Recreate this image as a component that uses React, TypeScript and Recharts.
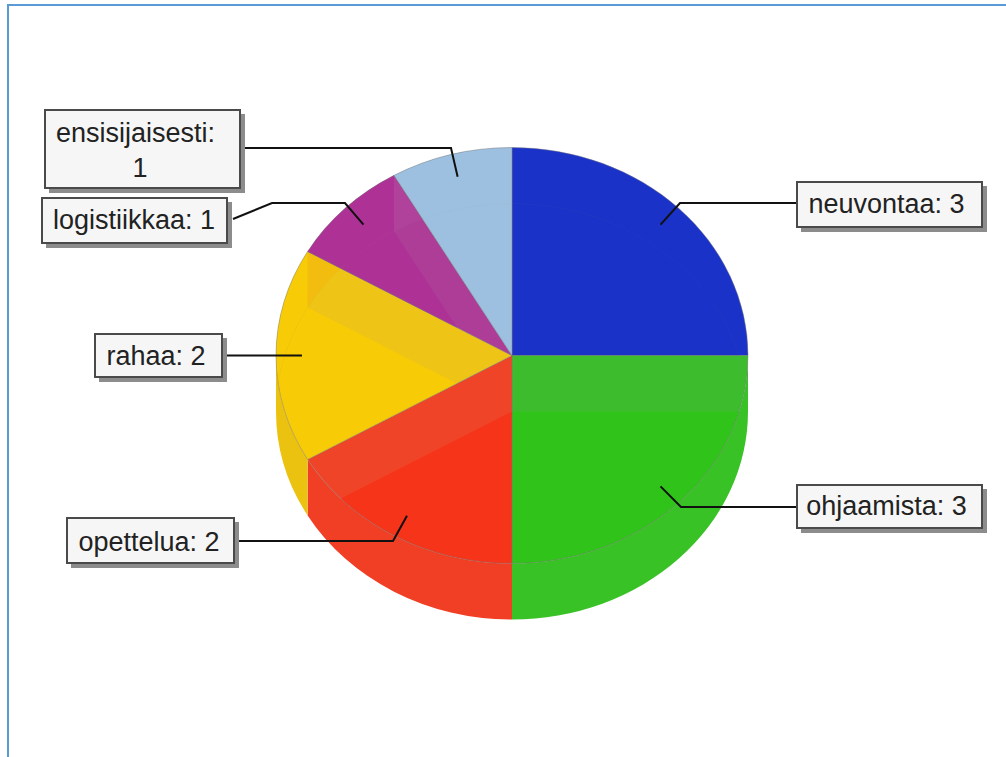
import { PieChart, Pie, Cell } from 'recharts'

const names = ['neuvontaa', 'ohjaamista', 'opettelua', 'rahaa', 'logistiikkaa', 'ensisijaisesti']
const values = [3, 3, 2, 2, 1, 1]
const faceColors = ['#1a32c8', '#30c31a', '#f5341a', '#f7cb05', '#ae3296', '#9dc0e0']
const wallColors = ['#1a32c8', '#38c225', '#f03f25', '#ecc211', '#ae3296', '#9dc0e0']
// top face colour where another slice's floor shows through it
const bandColors = ['#1a32c8', '#3dbd2e', '#f04428', '#eec516', '#ad3d97', '#9dc0e0']
// same, where the next slice's back wall shows through
const backTints = ['', '', '', '#f3bd10', '#b0429b', '']

const chartData = names.map((name, i) => ({ name, value: values[i] }))
const total = values.reduce((a, b) => a + b, 0)

const RX = 236
const SQUASH = 208 / 236
const DEPTH = 56
const RAD = Math.PI / 180

// box: left, top, width, height; text: x centre and baseline per line; leader: points from slice to box
const CALLOUTS: Record<string, { box: number[]; text: number[][]; leader: number[][] }> = {
  neuvontaa: { box: [797, 182, 185, 45], text: [[886.5, 213]], leader: [[680, 203], [797, 203]] },
  ohjaamista: { box: [797, 485, 185, 43], text: [[886.5, 515]], leader: [[681, 507], [797, 507]] },
  opettelua: { box: [67, 518, 167, 45], text: [[149, 551]], leader: [[393, 541], [234, 541]] },
  rahaa: { box: [95, 334, 127, 43], text: [[156, 365]], leader: [[222, 355.5]] },
  logistiikkaa: { box: [42, 198, 185, 45], text: [[134, 229]], leader: [[345, 203], [272, 203], [233, 219]] },
  ensisijaisesti: { box: [45, 110, 195, 78], text: [[135.5, 142], [140, 177]], leader: [[451, 148], [243, 148]] },
}

function ellipsePoint(cx: number, cy: number, angle: number, f = 1) {
  return [cx + RX * f * Math.cos(angle * RAD), cy - RX * SQUASH * f * Math.sin(angle * RAD)]
}

function arcTo(cx: number, cy: number, to: number, sweep: number) {
  const [x, y] = ellipsePoint(cx, cy, to)
  return `A${RX} ${RX * SQUASH} 0 0 ${sweep} ${x} ${y}`
}

function wedgePath(cx: number, cy: number, from: number, to: number) {
  const [x, y] = ellipsePoint(cx, cy, from)
  return `M${cx} ${cy}L${x} ${y}${arcTo(cx, cy, to, 1)}Z`
}

// band of the cylinder's side between two angles, from the top rim to the bottom rim
function wallPath(cx: number, cy: number, from: number, to: number) {
  const [ax, ay] = ellipsePoint(cx, cy, from)
  const [bx, by] = ellipsePoint(cx, cy + DEPTH, to)
  return `M${ax} ${ay}${arcTo(cx, cy, to, 1)}L${bx} ${by}${arcTo(cx, cy + DEPTH, from, 0)}Z`
}

// Slices run clockwise, so recharts hands over startAngle > endAngle (90 down to -270)
function backWall(cx: number, cy: number, start: number, end: number) {
  const from = Math.min(start, -180)
  const to = Math.max(end, -360)
  return from > to ? wallPath(cx, cy, from, to) : null
}

function SliceShape(props: any) {
  const { cx, cy, startAngle, endAngle, fill, index } = props
  const face = wedgePath(cx, cy, startAngle, endAngle)
  const floor = wedgePath(cx, cy + DEPTH, startAngle, endAngle)
  const clipId = `slice-clip-${index}`

  const lowerStart = Math.min(startAngle, 0)
  const lowerEnd = Math.max(endAngle, -180)
  const front = lowerStart > lowerEnd ? wallPath(cx, cy, lowerStart, lowerEnd) : null

  const back = backWall(cx, cy, startAngle, endAngle)
  const nextSweep = index + 1 < values.length ? (values[index + 1] / total) * 360 : 0
  const nextBack = backTints[index] ? backWall(cx, cy, endAngle, endAngle - nextSweep) : null

  return (
    <g>
      {front ? <path d={front} fill={wallColors[index]} /> : null}
      <clipPath id={clipId}>
        <path d={face} />
      </clipPath>
      <path d={face} fill={bandColors[index]} />
      <g clipPath={`url(#${clipId})`}>
        <path d={floor} fill={fill} />
        {back ? <path d={back} fill={fill} /> : null}
        {nextBack ? <path d={nextBack} fill={backTints[index]} /> : null}
        {/* rim of the floor, faintly visible through the top */}
        <ellipse cx={cx} cy={cy + DEPTH} rx={RX} ry={RX * SQUASH} fill="none" stroke="#999" strokeOpacity={0.06} />
      </g>
      <path d={face} fill="none" stroke="#777" strokeOpacity={0.45} strokeWidth={1} />
    </g>
  )
}

// Callout box plus its leader line, hung off the slice's mid angle
function SliceCallout(props: any) {
  const { cx, cy, midAngle, name, value } = props
  const c = CALLOUTS[name]
  if (!c) return null
  const [ax, ay] = ellipsePoint(cx, cy, midAngle, 0.89)
  const pts = [[ax, ay], ...c.leader].map((p) => p.join(',')).join(' ')
  const [x, y, w, h] = c.box
  // the long label wraps after the colon
  const lines = c.text.length > 1 ? [`${name}:`, `${value}`] : [`${name}: ${value}`]
  return (
    <g>
      <polyline points={pts} fill="none" stroke="#111" strokeWidth={2} />
      <rect x={x + 4} y={y + 4} width={w + 1} height={h + 1} fill="#8c8c8c" />
      <rect x={x} y={y} width={w} height={h} fill="#f6f6f6" stroke="#4a4a4a" strokeWidth={2} />
      {lines.map((line, i) => (
        <text
          key={line}
          x={c.text[i][0]}
          y={c.text[i][1]}
          textAnchor="middle"
          fontFamily="'Liberation Sans', Arial, sans-serif"
          fontSize={27}
          fill="#222"
        >
          {line}
        </text>
      ))}
    </g>
  )
}

export default function App() {
  return (
    <div style={{ position: 'fixed', left: 0, top: 0, width: 1006, height: 757, background: '#fff', overflow: 'hidden' }}>
      <div style={{ position: 'absolute', left: 7, top: 4, width: 999, height: 753, borderLeft: '2px solid #5b9bd5', borderTop: '2px solid #5b9bd5', boxSizing: 'border-box' }} />
      <div style={{ position: 'absolute', left: 0, top: 0 }}>
        <PieChart width={1006} height={757} margin={{ top: 0, right: 0, bottom: 0, left: 0 }}>
          <Pie
            data={chartData}
            dataKey="value"
            nameKey="name"
            cx={512}
            cy={355.5}
            innerRadius={0}
            outerRadius={RX}
            startAngle={90}
            endAngle={-270}
            paddingAngle={0}
            stroke="none"
            shape={SliceShape}
            label={SliceCallout}
            labelLine={false}
            isAnimationActive={false}
          >
            {chartData.map((entry, i) => (
              <Cell key={entry.name} fill={faceColors[i]} />
            ))}
          </Pie>
        </PieChart>
      </div>
    </div>
  )
}
